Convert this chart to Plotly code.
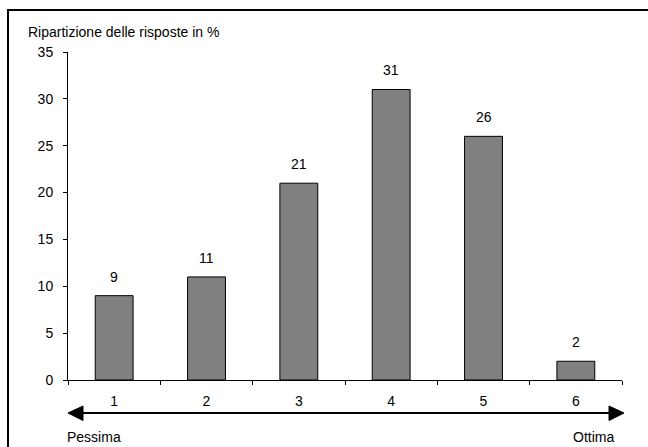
import plotly.graph_objects as go

# Survey results: share of answers (%) per rating, 1 = worst, 6 = best
ratings = ["1", "2", "3", "4", "5", "6"]
shares = [9, 11, 21, 31, 26, 2]
y_ticks = [0, 5, 10, 15, 20, 25, 30, 35]

W, H = 648, 447
L, R, T, B = 68, 622, 52, 380  # plot area in pixels


def px(x):
    return (x - L) / (R - L)


def py(y):
    return (B - y) / (B - T)


font = dict(family="Liberation Sans, Arial, sans-serif", size=14, color="black")

fig = go.Figure(
    go.Bar(
        x=ratings,
        y=shares,
        width=0.41,
        marker=dict(color="#808080", line=dict(color="black", width=1)),
        hoverinfo="x+y",
    )
)

# value labels above the bars (category index positions)
annotations = [
    dict(x=i, y=v, xref="x", yref="y", text=str(v), showarrow=False,
         yanchor="middle", yshift=19, font=font)
    for i, v in enumerate(shares)
]
annotations += [
    dict(x=px(26), y=py(32), xref="paper", yref="paper",
         text="Ripartizione delle risposte in %", showarrow=False,
         xanchor="left", yanchor="middle", font=font),
    dict(x=px(65), y=py(437), xref="paper", yref="paper", text="Pessima",
         showarrow=False, xanchor="left", yanchor="middle", font=font),
    dict(x=px(616), y=py(437), xref="paper", yref="paper", text="Ottima",
         showarrow=False, xanchor="right", yanchor="middle", font=font),
]

shapes = [
    # frame (left and top edges visible)
    dict(type="rect", xref="paper", yref="paper",
         x0=px(8), y0=py(10), x1=px(700), y1=py(500),
         line=dict(color="black", width=2), fillcolor="rgba(0,0,0,0)", layer="below"),
    # double-headed scale arrow
    dict(type="line", xref="paper", yref="paper",
         x0=px(80), y0=py(413), x1=px(612), y1=py(413),
         line=dict(color="black", width=2)),
    dict(type="path", xref="paper", yref="paper",
         path=f"M {px(68)} {py(413)} L {px(83)} {py(406)} L {px(83)} {py(420.5)} Z",
         fillcolor="black", line=dict(color="black", width=1)),
    dict(type="path", xref="paper", yref="paper",
         path=f"M {px(624)} {py(413)} L {px(609)} {py(406)} L {px(609)} {py(420.5)} Z",
         fillcolor="black", line=dict(color="black", width=1)),
]

fig.update_layout(
    width=W, height=H,
    margin=dict(l=L, r=W - R, t=T, b=H - B, pad=0),
    paper_bgcolor="white", plot_bgcolor="white",
    showlegend=False,
    font=font,
    annotations=annotations,
    shapes=shapes,
    xaxis=dict(
        type="category",
        range=[-0.5, 5.5],
        tickson="boundaries",
        ticks="outside", ticklen=4, tickcolor="black", tickwidth=1,
        showline=True, linecolor="black", linewidth=1,
        showgrid=False, zeroline=False,
        ticklabelstandoff=8,
        tickfont=font,
    ),
    yaxis=dict(
        range=[0, 35],
        tickvals=y_ticks,
        ticks="outside", ticklen=4, tickcolor="black", tickwidth=1,
        showline=True, linecolor="black", linewidth=1,
        showgrid=False, zeroline=False,
        ticklabelstandoff=7,
        tickfont=font,
    ),
)

fig.write_html("out.html")
